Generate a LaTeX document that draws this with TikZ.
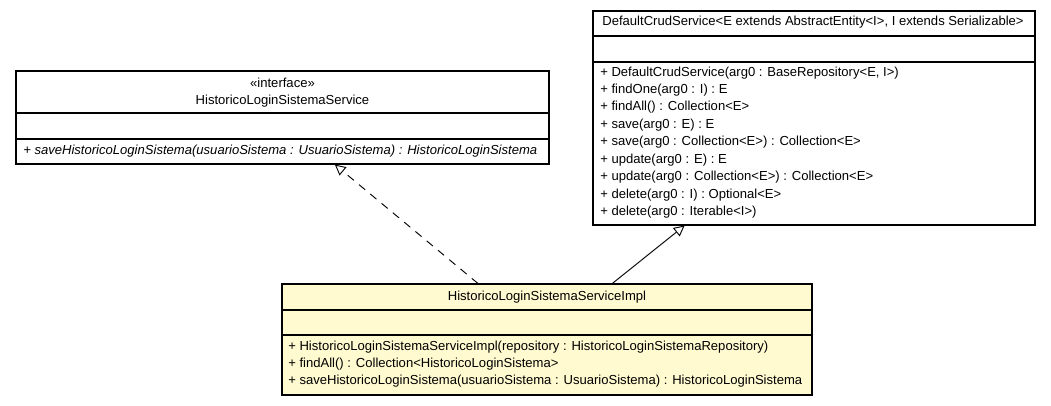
\documentclass[tikz,border=0pt]{standalone}
\usepackage{fontspec}
\setmainfont{Liberation Sans}
\usetikzlibrary{arrows.meta,calc,fit}

\definecolor{implfill}{RGB}{255,250,208}

\begin{document}
\begin{tikzpicture}[x=0.75pt,y=-0.75pt,
    box/.style={draw, line width=0.8pt, inner sep=0pt},
    txt/.style={anchor=west, inner sep=0pt, font=\fontsize{9.8}{11}\selectfont},
    ctxt/.style={inner sep=0pt, font=\fontsize{9.8}{11}\selectfont},
    realize/.style={line width=0.7pt, dash pattern=on 6pt off 5pt, -{Triangle[open,length=8pt,width=8pt]}},
    inherit/.style={line width=0.7pt, -{Triangle[open,length=8pt,width=8pt]}}]
    \useasboundingbox (0,0) rectangle (1051,405);
    % インタフェース
    \coordinate (ifaceNW) at (16,71);
    \coordinate (ifaceSE) at (549,164);
    \node[box, fit=(ifaceNW)(ifaceSE)] (iface) {};
    \draw[line width=1.3pt] (16,113)--(549,113);
    \draw[line width=0.8pt] (16,139)--(549,139);
    \node[ctxt] (ifaceStereo) at (282.5,83) {«interface»};
    \node[ctxt] (ifaceName) at (282.5,101) {HistoricoLoginSistemaService};
    \node[txt] (ifaceOp) at (23,151) {\itshape + saveHistoricoLoginSistema(usuarioSistema : UsuarioSistema) : HistoricoLoginSistema};
    % 親クラス
    \coordinate (crudNW) at (593,11);
    \coordinate (crudSE) at (1035,225);
    \node[box, fit=(crudNW)(crudSE)] (crud) {};
    \draw[line width=0.8pt] (593,36)--(1035,36);
    \draw[line width=1.3pt] (593,62)--(1035,62);
    \node[ctxt] (crudName) at (813,22) {DefaultCrudService<E extends AbstractEntity<I>, I extends Serializable>};
    \node[txt] (crudOpA) at (600,73) {+ DefaultCrudService(arg0 : BaseRepository<E, I>)};
    \node[txt] (crudOpB) at (600,90.5) {+ findOne(arg0 : I) : E};
    \node[txt] (crudOpC) at (600,107.5) {+ findAll() : Collection<E>};
    \node[txt] (crudOpD) at (600,125) {+ save(arg0 : E) : E};
    \node[txt] (crudOpE) at (600,142.5) {+ save(arg0 : Collection<E>) : Collection<E>};
    \node[txt] (crudOpF) at (600,160) {+ update(arg0 : E) : E};
    \node[txt] (crudOpG) at (600,177.5) {+ update(arg0 : Collection<E>) : Collection<E>};
    \node[txt] (crudOpH) at (600,195) {+ delete(arg0 : I) : Optional<E>};
    \node[txt] (crudOpI) at (600,212) {+ delete(arg0 : Iterable<I>)};
    % 実装クラス
    \coordinate (implNW) at (282,284);
    \coordinate (implSE) at (812,395);
    \node[box, fill=implfill, fit=(implNW)(implSE)] (impl) {};
    \draw[line width=1.3pt] (282,310)--(812,310);
    \draw[line width=0.8pt] (282,335)--(812,335);
    \node[ctxt] (implName) at (547,297) {HistoricoLoginSistemaServiceImpl};
    \node[txt] (implOpA) at (288,347.5) {+ HistoricoLoginSistemaServiceImpl(repository : HistoricoLoginSistemaRepository)};
    \node[txt] (implOpB) at (288,364.5) {+ findAll() : Collection<HistoricoLoginSistema>};
    \node[txt] (implOpC) at (288,381) {+ saveHistoricoLoginSistema(usuarioSistema : UsuarioSistema) : HistoricoLoginSistema};
    % 矢印
    \draw[realize] ($(impl.north west)!0.37!(impl.north east)$)--($(iface.south west)!0.598!(iface.south east)$);
    \draw[inherit] ($(impl.north west)!0.623!(impl.north east)$)--($(crud.south west)!0.208!(crud.south east)$);
\end{tikzpicture}
\end{document}
